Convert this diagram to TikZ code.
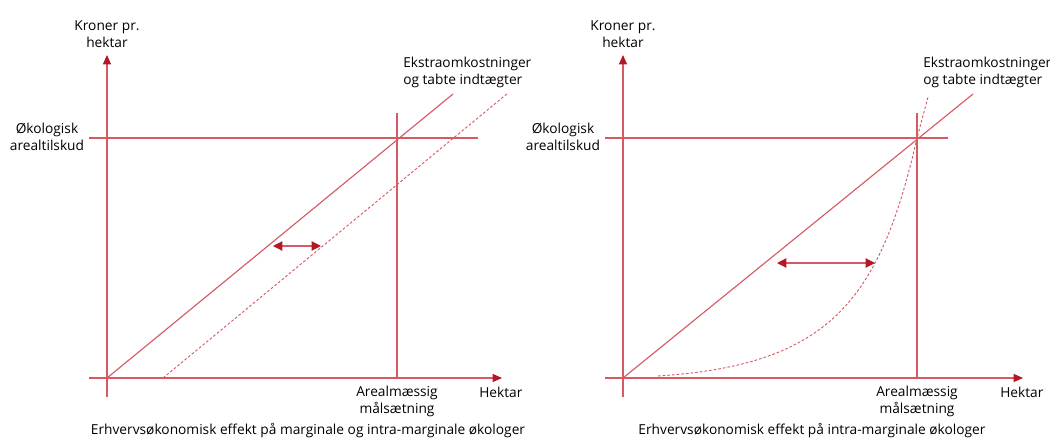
\documentclass[tikz,border=0pt]{standalone}
\usepackage{fontspec}
\setmainfont{Open Sans}
\usetikzlibrary{arrows.meta}
\definecolor{linered}{RGB}{214,90,100}
\definecolor{tipred}{RGB}{178,24,38}

\begin{document}
\begin{tikzpicture}[x=0.75pt,y=-0.75pt,
        font=\fontsize{10.3}{12.75}\selectfont,
        line/.style={draw=linered,line width=0.85pt},
        axis/.style={line,-{Triangle[length=7pt,width=6pt,color=tipred]}},
        gap/.style={line,{Triangle[length=7pt,width=7pt,color=tipred]}-{Triangle[length=7pt,width=7pt,color=tipred]}},
        cost/.style={line,dash pattern=on 2pt off 1.5pt,line width=0.7pt},
        lbl/.style={align=center,inner sep=0pt}]
    \useasboundingbox (0,0) rectangle (1050,440);
    %% Left panel: points
    \coordinate (lO) at (107,378);
    \coordinate (lYtop) at (107,55);
    \coordinate (lYbot) at (107,397);
    \coordinate (lXl) at (89,378);
    \coordinate (lXr) at (502,378);
    \coordinate (lSl) at (89,138);
    \coordinate (lSr) at (478,138);
    \coordinate (lMt) at (397,113);
    \coordinate (lMb) at (397,378);
    \coordinate (lCost) at (453,94);
    \coordinate (lDs) at (163,378);
    \coordinate (lDe) at (508,93);
    \coordinate (lAa) at (273,246);
    \coordinate (lAb) at (321,246);
    %% Left panel: lines
    \draw[axis] (lYbot) -- (lYtop);
    \draw[axis] (lXl) -- (lXr);
    \draw[line] (lSl) -- (lSr);
    \draw[line] (lMt) -- (lMb);
    \draw[line] (lO) -- (lCost);
    \draw[cost] (lDs) -- (lDe);
    \draw[gap] (lAa) -- (lAb);
    %% Left panel: labels
    \node[lbl] (lKroner) at (107,34) {Kroner pr.\\hektar};
    \node[lbl] (lTilskud) at (47,137) {Økologisk\\arealtilskud};
    \node[lbl,anchor=west,align=left] (lEkstra) at (403,72) {Ekstraomkostninger\\og tabte indtægter};
    \node[lbl] (lMaal) at (397,401) {Arealmæssig\\målsætning};
    \node[lbl,anchor=west] (lHektar) at (479,392) {Hektar};
    \node[lbl] (lCaption) at (308,431) {Erhvervsøkonomisk effekt på marginale og intra-marginale økologer};

    %% Right panel: points
    \coordinate (rO) at (623,378);
    \coordinate (rYtop) at (623,55);
    \coordinate (rYbot) at (623,397);
    \coordinate (rXl) at (605,378);
    \coordinate (rXr) at (1023,378);
    \coordinate (rSl) at (605,138);
    \coordinate (rSr) at (948,138);
    \coordinate (rMt) at (917,113);
    \coordinate (rMb) at (917,378);
    \coordinate (rCost) at (973,94);
    \coordinate (rCs) at (658,376);
    \coordinate (rCx) at (917,138);
    \coordinate (rCe) at (928,97);
    \coordinate (rAa) at (777,263);
    \coordinate (rAb) at (875,263);
    %% Right panel: lines
    \draw[axis] (rYbot) -- (rYtop);
    \draw[axis] (rXl) -- (rXr);
    \draw[line] (rSl) -- (rSr);
    \draw[line] (rMt) -- (rMb);
    \draw[line] (rO) -- (rCost);
    \draw[cost] (rCs) .. controls (830,365) and (880,300) .. (rCx) -- (rCe);
    \draw[gap] (rAa) -- (rAb);
    %% Right panel: labels
    \node[lbl] (rKroner) at (623,34) {Kroner pr.\\hektar};
    \node[lbl] (rTilskud) at (563,137) {Økologisk\\arealtilskud};
    \node[lbl,anchor=west,align=left] (rEkstra) at (923,72) {Ekstraomkostninger\\og tabte indtægter};
    \node[lbl] (rMaal) at (917,401) {Arealmæssig\\målsætning};
    \node[lbl,anchor=west] (rHektar) at (1000,392) {Hektar};
    \node[lbl] (rCaption) at (812,431) {Erhvervsøkonomisk effekt på intra-marginale økologer};
\end{tikzpicture}
\end{document}
